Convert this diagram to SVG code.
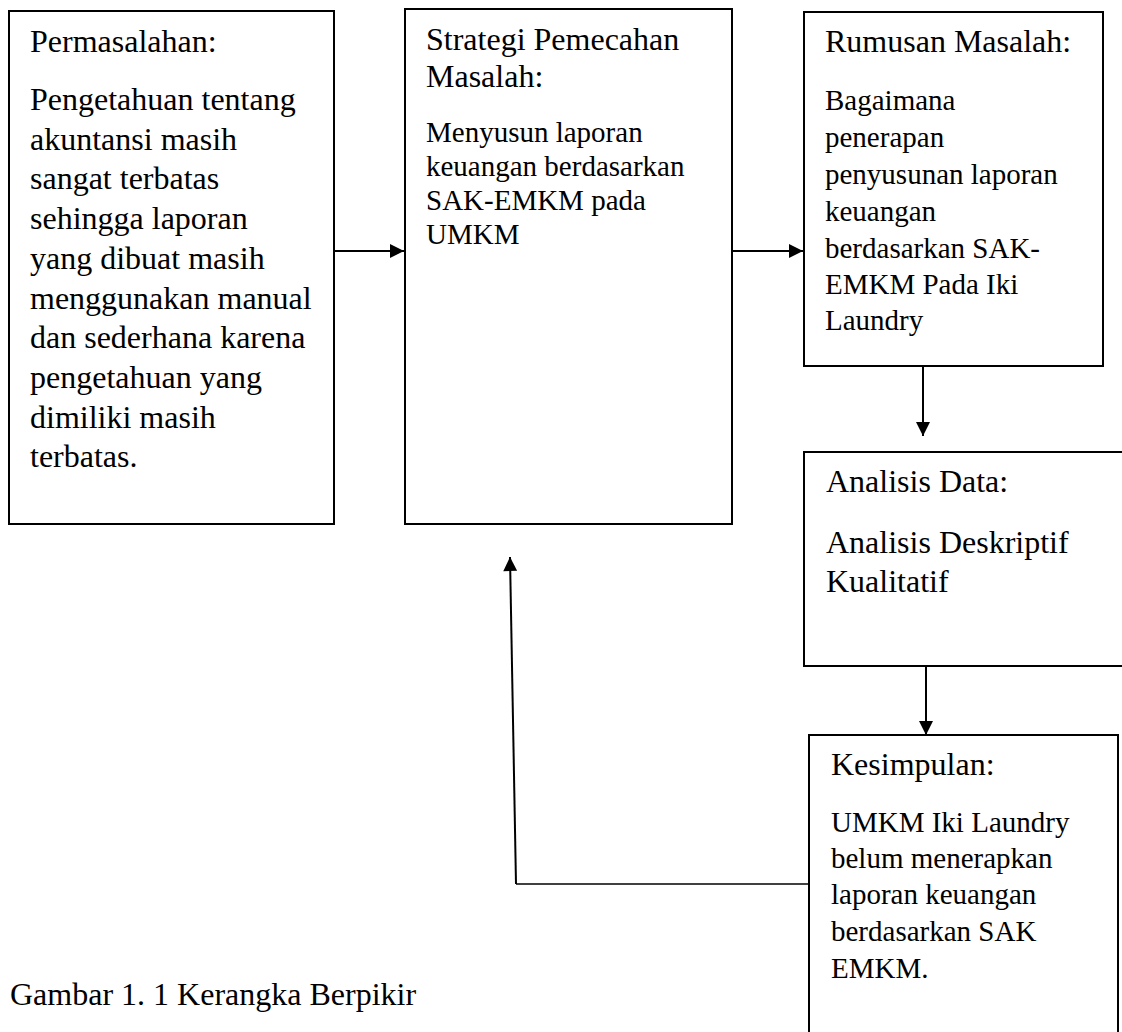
<svg xmlns="http://www.w3.org/2000/svg" width="1122" height="1032" viewBox="0 0 1122 1032">
<style>
.box{fill:#fff;stroke:#000;stroke-width:2}
.t{font-family:"Liberation Serif","Times New Roman",serif;fill:#000}
.h{font-size:32px}
.b32{font-size:32px}
.b29{font-size:29px}
.c{stroke:#000;stroke-width:2;fill:none}
.thin{stroke:#000;stroke-width:1.5;fill:none}
</style>
<defs>
<marker id="ah" viewBox="0 0 10 10" refX="10" refY="5" markerWidth="15" markerHeight="14" markerUnits="userSpaceOnUse" orient="auto">
<path d="M0,0 L10,5 L0,10 z" fill="#000"/>
</marker>
</defs>
<rect width="1122" height="1032" fill="#fff"/>

<g id="node-permasalahan">
<rect class="box" x="9" y="11" width="325" height="513"/>
<text class="t h" x="30" y="52">Permasalahan:</text>
<text class="t b32" x="30" y="110">Pengetahuan tentang</text>
<text class="t b32" x="30" y="149.7">akuntansi masih</text>
<text class="t b32" x="30" y="189.4">sangat terbatas</text>
<text class="t b32" x="30" y="229.1">sehingga laporan</text>
<text class="t b32" x="30" y="268.8">yang dibuat masih</text>
<text class="t b32" x="30" y="308.5">menggunakan manual</text>
<text class="t b32" x="30" y="348.2">dan sederhana karena</text>
<text class="t b32" x="30" y="387.9">pengetahuan yang</text>
<text class="t b32" x="30" y="427.6">dimiliki masih</text>
<text class="t b32" x="30" y="467.3">terbatas.</text>
</g>

<g id="node-strategi">
<rect class="box" x="405" y="9" width="327" height="515"/>
<text class="t h" x="426" y="50">Strategi Pemecahan</text>
<text class="t h" x="426" y="87">Masalah:</text>
<text class="t b29" x="426" y="142">Menyusun laporan</text>
<text class="t b29" x="426" y="176">keuangan berdasarkan</text>
<text class="t b29" x="426" y="210">SAK-EMKM pada</text>
<text class="t b29" x="426" y="244">UMKM</text>
</g>

<g id="node-rumusan">
<rect class="box" x="804" y="12" width="299" height="354"/>
<text class="t h" x="825" y="52">Rumusan Masalah:</text>
<text class="t b29" x="825" y="110">Bagaimana</text>
<text class="t b29" x="825" y="147">penerapan</text>
<text class="t b29" x="825" y="184">penyusunan laporan</text>
<text class="t b29" x="825" y="221">keuangan</text>
<text class="t b29" x="825" y="258">berdasarkan SAK-</text>
<text class="t b29" x="825" y="294">EMKM Pada Iki</text>
<text class="t b29" x="825" y="330">Laundry</text>
</g>

<g id="node-analisis">
<rect class="box" x="804" y="452" width="330" height="214"/>
<text class="t h" x="826" y="492">Analisis Data:</text>
<text class="t b32" x="826" y="553">Analisis Deskriptif</text>
<text class="t b32" x="826" y="592">Kualitatif</text>
</g>

<g id="node-kesimpulan">
<rect class="box" x="809" y="735" width="309" height="320"/>
<text class="t h" x="831" y="775">Kesimpulan:</text>
<text class="t b29" x="831" y="832">UMKM Iki Laundry</text>
<text class="t b29" x="831" y="868">belum menerapkan</text>
<text class="t b29" x="831" y="904">laporan keuangan</text>
<text class="t b29" x="831" y="941">berdasarkan SAK</text>
<text class="t b29" x="831" y="978">EMKM.</text>
</g>

<g id="connectors">
<line class="c" x1="334" y1="251" x2="404" y2="251" marker-end="url(#ah)"/>
<line class="c" x1="733" y1="251" x2="803" y2="251" marker-end="url(#ah)"/>
<line class="c" x1="923" y1="366" x2="923" y2="436" marker-end="url(#ah)"/>
<line class="c" x1="926" y1="666" x2="926" y2="735" marker-end="url(#ah)"/>
<polyline class="thin" points="808,884 516,884"/>
<line class="c" x1="516" y1="884" x2="510" y2="557" marker-end="url(#ah)"/>
</g>

<text id="caption" class="t b32" x="10" y="1005">Gambar 1. 1 Kerangka Berpikir</text>
</svg>
